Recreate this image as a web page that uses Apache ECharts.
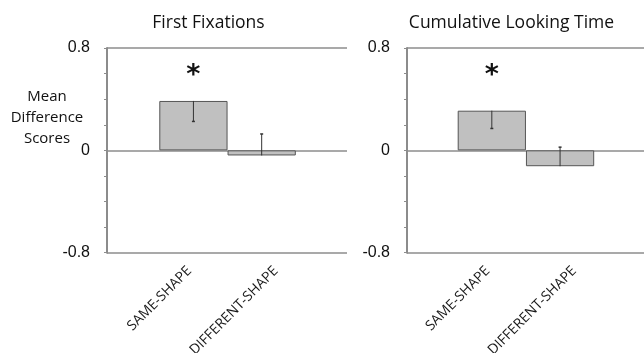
<!DOCTYPE html>
<html><head><meta charset="utf-8">
<script src="https://cdn.jsdelivr.net/npm/echarts@6/dist/echarts.min.js"></script>
<style>html,body{margin:0;padding:0;background:#fff}#c{width:644px;height:353px}</style>
</head><body><div id="c"></div>
<script>
const categories = ['SAME-SHAPE', 'DIFFERENT-SHAPE'];
const panelTitles = ['First Fixations', 'Cumulative Looking Time'];
const firstFixMeans = [0.386, -0.04];
const firstFixErrors = [0.16, 0.168];
const lookingMeans = [0.31, -0.124];
const lookingErrors = [0.139, 0.149];
const significance = ['*', ''];
const yMin = -0.8, yMax = 0.8, yStep = 0.8;
const yAxisTitle = 'Mean\nDifference\nScores';

const panels = [
  { title: panelTitles[0], means: firstFixMeans, errors: firstFixErrors, frameLeft: 107, barLeft: 159.3, labelLeft: 146.25, titleX: 208.5 },
  { title: panelTitles[1], means: lookingMeans, errors: lookingErrors, frameLeft: 407, barLeft: 457.7, labelLeft: 444.55, titleX: 511.5 }
];
const STAR_Y = 0.63;
const labelPads = [[0, 0, 0, 0], [0, 0, 10, 0]];
const grids = [], xAxes = [], yAxes = [], series = [], titles = [];
const axisGray = '#8c8c8c';

panels.forEach((p, i) => {
  const ga = grids.length;
  const g = { top: 48, height: 204.7, containLabel: false, outerBoundsMode: 'none' };
  grids.push(Object.assign({ left: p.frameLeft, width: 240 }, g));
  grids.push(Object.assign({ left: p.barLeft, width: 136.5 }, g));
  grids.push(Object.assign({ left: p.labelLeft, width: 173 }, g));

  xAxes.push({ gridIndex: ga, type: 'value', min: 0, max: 1, show: false });
  yAxes.push({
    gridIndex: ga, type: 'value', min: yMin, max: yMax, interval: yStep,
    axisLine: { show: true, lineStyle: { color: axisGray, width: 2 } },
    axisTick: { show: true, length: 3, lineStyle: { color: axisGray, width: 1 } },
    minorTick: { show: true, splitNumber: 4, length: 3, lineStyle: { color: axisGray, width: 1 } },
    splitLine: { show: true, lineStyle: { color: axisGray, width: 1.5 } },
    axisLabel: { fontFamily: 'Liberation Sans', fontSize: 16, color: '#111', margin: 17,
      formatter: v => (Math.abs(v) < 1e-9 ? '0' : String(Math.round(v * 10) / 10)) }
  });

  xAxes.push({ gridIndex: ga + 1, type: 'category', data: categories, show: false });
  yAxes.push({ gridIndex: ga + 1, type: 'value', min: yMin, max: yMax, interval: yStep, show: false });

  xAxes.push({
    gridIndex: ga + 2, type: 'category',
    data: categories.map((c, k) => ({ value: c, textStyle: { padding: labelPads[k] } })),
    axisLine: { show: false }, axisTick: { show: false },
    axisLabel: { rotate: 45, margin: 16, fontFamily: 'Open Sans', fontSize: 14, color: '#1a1a1a', interval: 0 }
  });
  yAxes.push({ gridIndex: ga + 2, type: 'value', min: yMin, max: yMax, show: false });

  series.push({
    type: 'bar', xAxisIndex: ga + 1, yAxisIndex: ga + 1, data: p.means, z: 2,
    barWidth: '100%', itemStyle: { color: '#c0c0c0', borderColor: '#555', borderWidth: 1 },
    silent: true, animation: false
  });
  series.push({
    type: 'custom', xAxisIndex: ga + 1, yAxisIndex: ga + 1, animation: false, silent: true, z: 5,
    data: p.means.map((m, k) => [k, m, p.errors[k]]),
    renderItem: function (params, api) {
      const k = api.value(0), m = api.value(1), e = api.value(2);
      const end = m - Math.sign(m) * e;
      const a = api.coord([k, m]), b = api.coord([k, end]);
      const children = [
        { type: 'line', shape: { x1: a[0], y1: a[1], x2: b[0], y2: b[1] }, style: { stroke: '#333', lineWidth: 1 } },
        { type: 'line', shape: { x1: b[0] - 1.5, y1: b[1], x2: b[0] + 1.5, y2: b[1] }, style: { stroke: '#333', lineWidth: 1.5 } }
      ];
      if (significance[k]) {
        const s = api.coord([k, STAR_Y]);
        children.push({ type: 'text', x: s[0], y: s[1] + 6, style: { text: significance[k], fontFamily: 'DejaVu Sans', fontSize: 27, fontWeight: 'bold', fill: '#111', align: 'center', verticalAlign: 'middle' } });
      }
      return { type: 'group', children };
    }
  });
  titles.push({ text: p.title, left: p.titleX, top: 14, textAlign: 'center', padding: 0,
    textStyle: { fontFamily: 'Open Sans', fontSize: 17.5, fontWeight: 'normal', color: '#111' } });
});
titles.push({ text: yAxisTitle, left: 47, top: 86, textAlign: 'center', padding: 0,
  textStyle: { fontFamily: 'Open Sans', fontSize: 15, fontWeight: 'normal', color: '#111', lineHeight: 21 } });

const chart = echarts.init(document.getElementById('c'), null, { renderer: 'canvas' });
chart.setOption({
  animation: false, backgroundColor: '#fff',
  title: titles, grid: grids, xAxis: xAxes, yAxis: yAxes, series: series
});
</script></body></html>
